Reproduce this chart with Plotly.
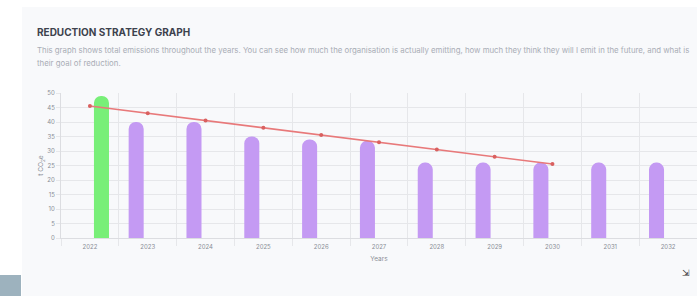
import plotly.graph_objects as go

years = ["2022", "2023", "2024", "2025", "2026", "2027", "2028", "2029", "2030", "2031", "2032"]
actual = [49, None, None, None, None, None, None, None, None, None, None]
projected = [None, 40, 40, 35, 34, 33.5, 26, 26, 26, 26, 26]
goal_years = ["2022", "2023", "2024", "2025", "2026", "2027", "2028", "2029", "2030"]
goal = [45.5, 43, 40.5, 38, 35.5, 33, 30.5, 28, 25.5]

title = "REDUCTION STRATEGY GRAPH"
subtitle1 = ("This graph shows total emissions throughout the years. You can see how much the organisation "
             "is actually emitting, how much they think they will I emit in the future, and what is")
subtitle2 = "their goal of reduction."

W, H = 697, 296
ml, mr, mt, mb = 61, 0, 93, 58

fig = go.Figure()
fig.add_trace(go.Bar(x=years, y=projected, marker=dict(color="#c49af3", cornerradius=7, line_width=0),
                     name="Projected", showlegend=False))
fig.add_trace(go.Bar(x=years, y=actual, marker=dict(color="#78ef78", cornerradius=7, line_width=0),
                     name="Actual", showlegend=False))
fig.add_trace(go.Scatter(x=goal_years, y=goal, mode="lines+markers",
                         line=dict(color="#e8797a", width=1.5),
                         marker=dict(size=4, color="#d9605f"),
                         name="Goal", showlegend=False))

def px(x):
    return (x - ml) / (W - ml - mr)

def py(y):
    return (H - mb - y) / (H - mt - mb)

shapes = [
    dict(type="rect", xref="paper", yref="paper", x0=px(0), x1=px(W), y0=py(0), y1=py(7),
         fillcolor="#ffffff", line_width=0, layer="below"),
    dict(type="rect", xref="paper", yref="paper", x0=px(0), x1=px(22), y0=py(0), y1=py(H),
         fillcolor="#ffffff", line_width=0, layer="below"),
    dict(type="rect", xref="paper", yref="paper", x0=px(0), x1=px(21), y0=py(275), y1=py(H),
         fillcolor="#9db2be", line_width=0, layer="below"),
]

annotations = [
    dict(text="<b>" + title + "</b>", x=px(35), y=py(24), xref="paper", yref="paper",
         xanchor="left", yanchor="top", showarrow=False,
         font=dict(family="Inter, Roboto, sans-serif", size=10, color="#3d424d")),
    dict(text=subtitle1, x=px(35), y=py(43), xref="paper", yref="paper",
         xanchor="left", yanchor="top", showarrow=False,
         font=dict(family="Inter, Roboto, sans-serif", size=7.8, color="#a9adb6")),
    dict(text=subtitle2, x=px(35), y=py(56), xref="paper", yref="paper",
         xanchor="left", yanchor="top", showarrow=False,
         font=dict(family="Inter, Roboto, sans-serif", size=7.8, color="#a9adb6")),
    dict(text="⇲", x=px(692), y=py(280), xref="paper", yref="paper",
         showarrow=False, font=dict(size=9, color="#333333")),
]

fig.update_layout(
    width=W, height=H,
    margin=dict(l=ml, r=mr, t=mt, b=mb),
    paper_bgcolor="#f8f9fb",
    plot_bgcolor="#f8f9fb",
    barmode="group",
    bargap=0.2,
    bargroupgap=0.35,
    shapes=shapes,
    annotations=annotations,
    font=dict(family="Inter, Roboto, sans-serif", color="#888c94", size=6),
    xaxis=dict(
        type="category",
        range=[-0.5, 10.5],
        tickson="boundaries",
        showgrid=True, gridcolor="#e6e7ea", gridwidth=1,
        ticks="outside", ticklen=7, tickcolor="#e6e7ea",
        ticklabelstandoff=3,
        showline=True, linecolor="#dcdde1", linewidth=1,
        tickfont=dict(size=6, color="#8a8e96"),
        title=dict(text="Years", font=dict(size=6.5, color="#8a8e96"), standoff=7),
        zeroline=False,
    ),
    yaxis=dict(
        range=[0, 50],
        dtick=5,
        showgrid=True, gridcolor="#e6e7ea", gridwidth=1,
        ticks="outside", ticklen=4, tickcolor="#e6e7ea",
        showline=True, linecolor="#dcdde1", linewidth=1,
        tickfont=dict(size=6, color="#8a8e96"),
        title=dict(text="t CO<sub>2</sub>e", font=dict(size=6.5, color="#8a8e96"), standoff=2),
        zeroline=False,
    ),
)

fig.write_html("out.html", config={"displayModeBar": False},
               post_script="document.body.style.margin='0';document.body.style.overflow='hidden';")
